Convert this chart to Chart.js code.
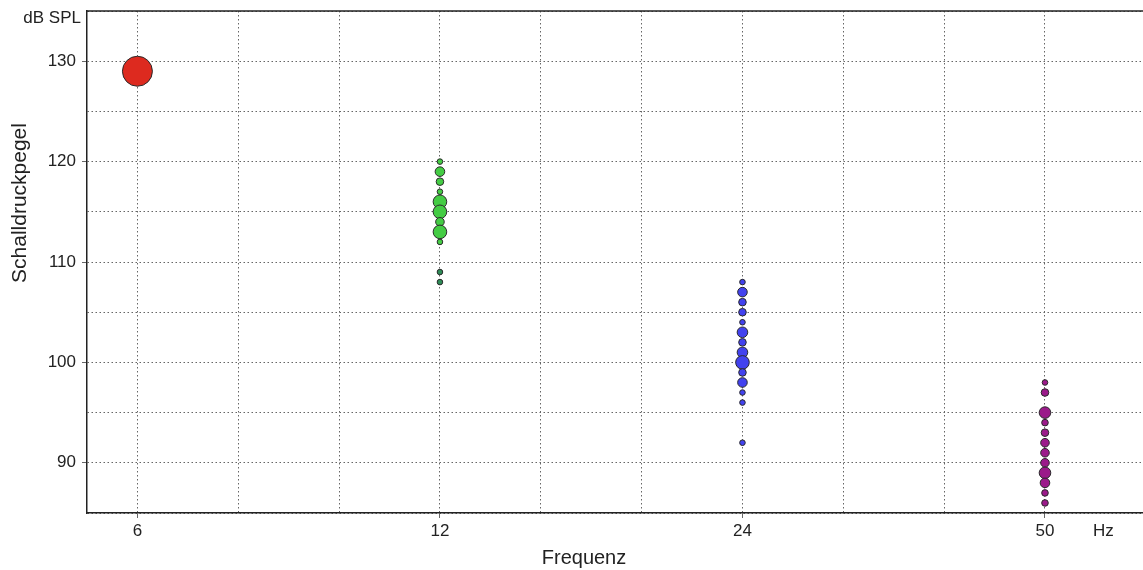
<!DOCTYPE html>
<html lang="de">
<head>
  <meta charset="UTF-8">
  <title>Schalldruckpegel nach Frequenz</title>
  <script src="https://cdn.jsdelivr.net/npm/chart.js"></script>
  <style>
    html, body { margin: 0; padding: 0; background: #fff; overflow: hidden; }
    #wrap { width: 1143px; height: 570px; }
  </style>
</head>
<body>
<div id="wrap"><canvas id="splChart" width="1143" height="570"></canvas></div>

<script>
  // Frequenzen (Kategorien auf der x-Achse)
  const freqLabels = ['6', '12', '24', '50'];

  // Messwerte je Frequenz: Pegel (dB SPL) und Blasengröße
  const spl6 = [129];
  const size6 = [15];

  const spl12 = [120, 119, 118, 117, 116, 115, 114, 113, 112];
  const size12 = [2.8, 4.8, 3.8, 2.8, 6.8, 6.8, 4.3, 6.8, 2.8];

  const spl12low = [109, 108];
  const size12low = [2.8, 2.8];

  const spl24 = [108, 107, 106, 105, 104, 103, 102, 101, 100, 99, 98, 97, 96, 92];
  const size24 = [2.8, 4.8, 3.8, 3.8, 2.8, 5.3, 3.8, 5.3, 6.8, 3.8, 4.8, 2.8, 2.8, 2.8];

  const spl50 = [98, 97, 95, 94, 93, 92, 91, 90, 89, 88, 87, 86];
  const size50 = [2.8, 3.8, 5.8, 3.3, 3.8, 4.3, 4.3, 4.3, 5.8, 4.8, 3.3, 3.3];

  const yTicks = [90, 100, 110, 120, 130];

  function points(xIndex, levels, sizes) {
    return levels.map((v, i) => ({ x: xIndex, y: v, r: sizes[i] }));
  }

  const font = 'Arial, "Liberation Sans", sans-serif';
  const textColor = '#222';

  // Beschriftungen ausserhalb der Achsen + obere Rahmenlinie
  const extraText = {
    id: 'extraText',
    afterDraw(chart) {
      const c = chart.ctx;
      const a = chart.chartArea;
      c.save();
      c.strokeStyle = '#222';
      c.lineWidth = 1.5;
      c.beginPath();
      c.moveTo(a.left, a.top);
      c.lineTo(a.right, a.top);
      c.stroke();

      c.fillStyle = textColor;
      c.textBaseline = 'middle';
      c.font = '17px ' + font;
      c.textAlign = 'right';
      c.fillText('dB SPL', 81, 18);
      c.textAlign = 'left';
      c.fillText('Hz', 1093, 531);

      c.font = '20px ' + font;
      c.textAlign = 'center';
      c.fillText('Frequenz', 584, 558);

      c.font = '21px ' + font;
      c.translate(20, 203);
      c.rotate(-Math.PI / 2);
      c.fillText('Schalldruckpegel', 0, 0);
      c.restore();
    }
  };

  const bubbleStyle = { borderColor: '#2a2a2a', borderWidth: 1 };

  const gridColor = '#666';
  const gridDash = [1.5, 2.5];

  new Chart(document.getElementById('splChart'), {
    type: 'bubble',
    data: {
      datasets: [
        { data: points(0, spl6, size6), backgroundColor: '#dd2a1f', ...bubbleStyle },
        { data: points(1, spl12, size12), backgroundColor: '#44cc44', ...bubbleStyle },
        { data: points(1, spl12low, size12low), backgroundColor: '#2e8b57', ...bubbleStyle },
        { data: points(2, spl24, size24), backgroundColor: '#4242ee', ...bubbleStyle },
        { data: points(3, spl50, size50), backgroundColor: '#9b1a8a', ...bubbleStyle }
      ]
    },
    options: {
      responsive: false,
      animation: false,
      layout: { autoPadding: false, padding: { top: 11, left: 0, right: 0, bottom: 0 } },
      plugins: {
        legend: { display: false },
        tooltip: { enabled: false }
      },
      scales: {
        x: {
          type: 'linear',
          min: -1 / 6,
          max: 3.324,
          afterFit(scale) {
            scale.height = 57;
            scale.paddingLeft = 0;
            scale.paddingRight = 0;
          },
          afterBuildTicks(scale) {
            const t = [];
            for (let i = 0; i <= 9; i++) t.push({ value: i / 3 });
            scale.ticks = t;
          },
          ticks: {
            autoSkip: false,
            maxRotation: 0,
            padding: 3,
            color: textColor,
            font: { family: font, size: 17 },
            callback(v) {
              return Math.abs(v - Math.round(v)) < 1e-6 ? freqLabels[Math.round(v)] : '';
            }
          },
          grid: {
            color: gridColor,
            lineWidth: 1,
            tickLength: 5,
            tickColor(ctx) {
              const v = ctx.tick ? ctx.tick.value : 0.5;
              return Math.abs(v - Math.round(v)) < 1e-6 ? '#666' : 'rgba(0,0,0,0)';
            }
          },
          border: { display: true, color: '#222', width: 1.5, dash: gridDash }
        },
        y: {
          min: 85,
          max: 135,
          afterFit(scale) {
            scale.width = 87;
            scale.paddingTop = 0;
            scale.paddingBottom = 0;
          },
          ticks: {
            stepSize: 5,
            padding: 6,
            color: textColor,
            font: { family: font, size: 17 },
            callback(v) { return yTicks.includes(v) ? String(v) : ''; }
          },
          grid: {
            color: gridColor,
            lineWidth: 1,
            tickLength: 5,
            tickColor(ctx) {
              return ctx.tick && yTicks.includes(ctx.tick.value) ? '#666' : 'rgba(0,0,0,0)';
            }
          },
          border: { display: true, color: '#222', width: 1.5, dash: gridDash }
        }
      }
    },
    plugins: [extraText]
  });
</script>
</body>
</html>
